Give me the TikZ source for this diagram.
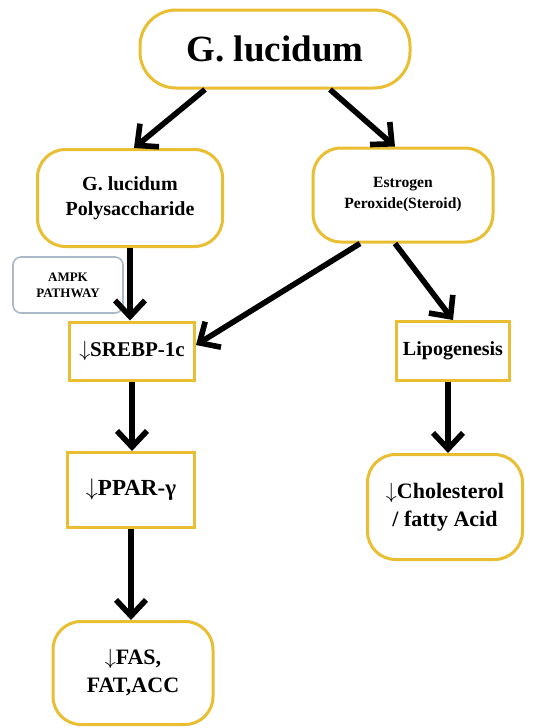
\documentclass[tikz,border=0pt]{standalone}
\usepackage{fontspec}
\setmainfont{Liberation Serif}
\usepackage{tikz}
\usetikzlibrary{shapes,arrows.meta,positioning,calc}
\definecolor{goldline}{RGB}{234,190,50}
\definecolor{ampkline}{RGB}{170,184,200}

\tikzset{
    roundbox/.style={draw=goldline, line width=1.5pt, fill=white, rounded corners=14pt,
        align=center, font=\bfseries, inner sep=2pt},
    squarebox/.style={draw=goldline, line width=1.5pt, fill=white,
        align=center, font=\bfseries, inner sep=2pt},
    flowarrow/.style={line width=2.8pt, -{Straight Barb[length=8pt,width=15pt,line width=2.8pt]}}
}

\begin{document}
\begin{tikzpicture}[x=0.5pt,y=-0.5pt]
    \useasboundingbox (0,0) rectangle (548,728);

    % boxes
    \node[roundbox, rounded corners=18pt, minimum width=135pt, minimum height=39pt, font=\bfseries\fontsize{18.5}{20}\selectfont] (glu) at (275,49) {G. lucidum};
    \node[roundbox, minimum width=92.5pt, minimum height=48.5pt, font=\bfseries\fontsize{10}{12.5}\selectfont] (poly) at (130,198) {G. lucidum\\Polysaccharide};
    \node[roundbox, minimum width=90pt, minimum height=47pt, font=\bfseries\fontsize{7.8}{10.5}\selectfont] (estr) at (403,195) {Estrogen\\Peroxide(Steroid)};
    \node[draw=ampkline, line width=0.8pt, rounded corners=4pt, minimum width=55pt, minimum height=28pt,
        align=center, font=\bfseries\fontsize{6.5}{8}\selectfont] (ampk) at (68,285) {AMPK\\PATHWAY};
    \node[squarebox, minimum width=62.5pt, minimum height=29pt, font=\bfseries\fontsize{10.5}{12}\selectfont] (srebp) at (132,351) {$\downarrow$SREBP-1c};
    \node[squarebox, minimum width=56.5pt, minimum height=29.5pt, font=\bfseries\fontsize{10}{12}\selectfont] (lipo) at (453,351) {Lipogenesis};
    \node[squarebox, minimum width=63.5pt, minimum height=37.5pt, font=\bfseries\fontsize{11.5}{13}\selectfont] (ppar) at (131,490) {$\downarrow$PPAR-γ};
    \node[roundbox, minimum width=80pt, minimum height=51.5pt, font=\bfseries\fontsize{11}{14}\selectfont] (fas) at (133,673) {$\downarrow$FAS,\\FAT,ACC};
    \node[roundbox, minimum width=77.5pt, minimum height=52.5pt, font=\bfseries\fontsize{11}{14}\selectfont] (chol) at (445,507) {$\downarrow$Cholesterol\\/ fatty Acid};

    % arrows
    \draw[flowarrow] ([xshift=-35pt]glu.south) -- ([xshift=2pt]poly.north);
    \draw[flowarrow] ([xshift=27.5pt]glu.south) -- ([xshift=-4pt]estr.north);
    \draw[flowarrow] (poly.south) -- (poly.south |- srebp.north);
    \draw[flowarrow] ([xshift=-21.5pt]estr.south) -- ([yshift=3pt]srebp.east);
    \draw[flowarrow] ([xshift=-4pt]estr.south) -- (lipo.north);
    \draw[flowarrow] (srebp.south) -- (srebp.south |- ppar.north);
    \draw[flowarrow] (ppar.south) -- (ppar.south |- fas.north);
    \draw[flowarrow] ([xshift=-2.5pt]lipo.south) -- ([xshift=-2.5pt]lipo.south |- chol.north);
\end{tikzpicture}
\end{document}
